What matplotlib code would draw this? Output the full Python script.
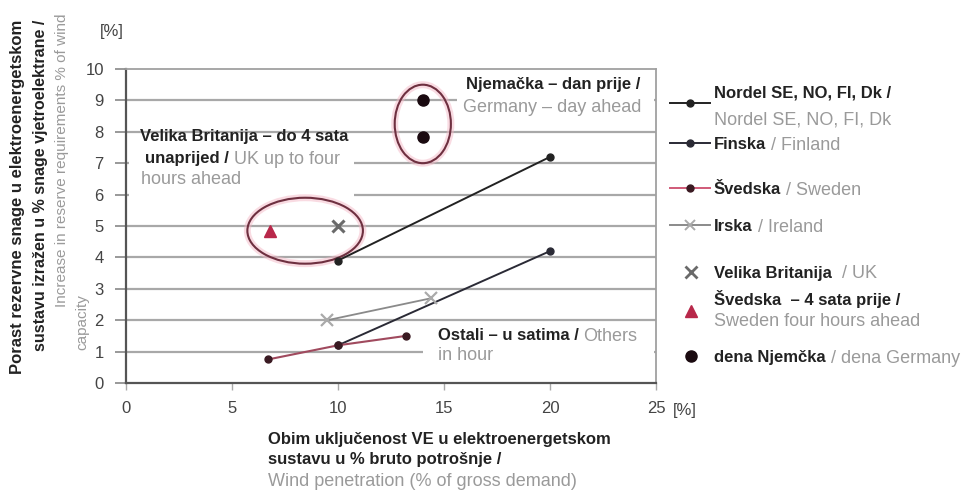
import matplotlib
matplotlib.use("Agg")
import matplotlib.pyplot as plt
from matplotlib.patches import Ellipse, Rectangle
from matplotlib.lines import Line2D

plt.rcParams['font.family'] = ['Liberation Sans', 'DejaVu Sans']

# ---------------- data ----------------
nordel_x = [10, 20]
nordel_y = [3.9, 7.2]
finland_x = [10, 20]
finland_y = [1.2, 4.2]
sweden_x = [6.7, 10, 13.2]
sweden_y = [0.75, 1.2, 1.5]
ireland_x = [9.5, 14.4]
ireland_y = [2.0, 2.7]
uk_x = [10]
uk_y = [5.0]
sweden4h_x = [6.8]
sweden4h_y = [4.85]
dena_x = [14, 14]
dena_y = [9.0, 7.85]

x_ticks = [0, 5, 10, 15, 20, 25]
y_ticks = list(range(0, 11))
y_ticklabels = [str(v) for v in y_ticks]

BLACK = '#222222'
GREY = '#9a9a9a'
W, H = 972, 494
BS = 12     # black text size (bold)
GS = 13     # grey text size

fig = plt.figure(figsize=(W / 100, H / 100), dpi=100)
ax = fig.add_axes([126 / W, 1 - 383 / H, (656 - 126) / W, (383 - 69) / H])
ax.set_xlim(0, 25)
ax.set_ylim(0, 10)

# grid
for v in y_ticks[1:10]:
    ax.axhline(v, color='#a8a8a8', lw=1.6, zorder=1)

for s in ['top', 'right']:
    ax.spines[s].set_color('#a0a0a0')
    ax.spines[s].set_linewidth(1.3)
for s in ['left', 'bottom']:
    ax.spines[s].set_color('#555555')
    ax.spines[s].set_linewidth(1.6)

ax.set_xticks(x_ticks)
ax.set_xticklabels([str(v) for v in x_ticks])
ax.set_yticks(y_ticks)
ax.set_yticklabels(y_ticklabels)
ax.tick_params(axis='y', direction='out', length=8, width=1.2, color='#888888',
               pad=8, labelsize=12, labelcolor='#444444')
ax.tick_params(axis='x', direction='out', length=5, width=1.0, color='#aaaaaa',
               pad=8, labelsize=12, labelcolor='#444444')

# white boxes behind annotations (hide gridlines)
ax.add_patch(Rectangle((0.15, 5.5), 10.6, 2.05, facecolor='white', edgecolor='none', zorder=2))
ax.add_patch(Rectangle((15.6, 8.4), 9.3, 1.3, facecolor='white', edgecolor='none', zorder=2))
ax.add_patch(Rectangle((14.0, 0.3), 10.9, 1.4, facecolor='white', edgecolor='none', zorder=2))

# series
ax.plot(nordel_x, nordel_y, color=BLACK, lw=1.4, marker='o', ms=5, zorder=4)
ax.plot(finland_x, finland_y, color='#2a2a35', lw=1.4, marker='o', ms=5, zorder=4)
ax.plot(sweden_x, sweden_y, color='#a04a5e', lw=1.5, marker='o', ms=5,
        mfc='#3a1a22', mec='#3a1a22', zorder=4)
ax.plot(ireland_x, ireland_y, color='#8a8a8a', lw=1.3, marker='x', ms=8, mew=1.6,
        mec='#aaaaaa', zorder=4)
ax.plot(uk_x, uk_y, ls='none', marker='x', ms=9, mew=2.2, color='#6a6a6a', zorder=5)
ax.plot(sweden4h_x, sweden4h_y, ls='none', marker='^', ms=8, color='#b8284a', zorder=5)
ax.plot(dena_x, dena_y, ls='none', marker='o', ms=8, color='#1a0a10', zorder=5)

# ellipses
for (cx, cy, ew, eh) in [(8.45, 4.85, 5.45, 2.1), (14.0, 8.25, 2.65, 2.5)]:
    ax.add_patch(Ellipse((cx, cy), ew, eh, facecolor='none', edgecolor='#f4b8c6',
                         lw=5, alpha=0.5, zorder=3))
    ax.add_patch(Ellipse((cx, cy), ew, eh, facecolor='none', edgecolor='#6e3040',
                         lw=1.5, zorder=3))

fig.canvas.draw()
renderer = fig.canvas.get_renderer()


def seg_text(x_px, y_px, parts):
    """Place coloured text segments one after another; (x_px, y_px) in pixels from top-left."""
    x = x_px / W
    y = 1 - y_px / H
    for txt, col in parts:
        if col == BLACK:
            kw = dict(fontsize=BS, fontweight='bold')
        elif col == GREY:
            kw = dict(fontsize=GS)
        else:
            kw = dict(fontsize=12)
        t = fig.text(x, y, txt, color=col, va='center_baseline', ha='left', zorder=10, **kw)
        bb = t.get_window_extent(renderer)
        x += bb.width / W


# axis unit labels
seg_text(100, 30, [('[%]', '#444444')])
seg_text(673, 409, [('[%]', '#444444')])

# annotations in plot
seg_text(140, 135, [('Velika Britanija \u2013 do 4 sata', BLACK)])
seg_text(145, 157, [('unaprijed / ', BLACK), ('UK up to four', GREY)])
seg_text(141, 178, [('hours ahead', GREY)])
seg_text(466, 83, [('Njema\u010dka \u2013 dan prije /', BLACK)])
seg_text(463, 105, [('Germany \u2013 day ahead', GREY)])
seg_text(438, 334, [('Ostali \u2013 u satima / ', BLACK), ('Others', GREY)])
seg_text(438, 354, [('in hour', GREY)])

# x label
seg_text(268, 438, [('Obim uklju\u010denost VE u elektroenergetskom', BLACK)])
seg_text(268, 458, [('sustavu u % bruto potro\u0161nje /', BLACK)])
seg_text(268, 479, [('Wind penetration (% of gross demand)', GREY)])

# y label (rotated columns)
fig.text(18 / W, 1 - 197 / H, 'Porast rezervne snage u elektroenergetskom', rotation=90,
         fontsize=BS, fontweight='bold', color=BLACK, ha='center', va='center')
fig.text(40 / W, 1 - 185 / H, 'sustavu izra\u017een u % snage vjetroelektrane /', rotation=90,
         fontsize=11.5, fontweight='bold', color=BLACK, ha='center', va='center')
fig.text(62 / W, 1 - 160 / H, 'Increase in reserve requirements % of wind', rotation=90,
         fontsize=11, color=GREY, ha='center', va='center')
fig.text(82 / W, 1 - 350 / H, 'capacity', rotation=90,
         fontsize=11, color=GREY, ha='center', va='bottom')

# legend (manual)
def leg_line(y_px, color, marker, mfc, mec, ms=5, mew=1.0):
    yf = 1 - y_px / H
    fig.add_artist(Line2D([670 / W, 710 / W], [yf, yf], color=color, lw=1.4,
                          transform=fig.transFigure))
    fig.add_artist(Line2D([690 / W], [yf], marker=marker, ms=ms, mfc=mfc, mec=mec, mew=mew,
                          ls='none', transform=fig.transFigure))


def leg_marker(y_px, marker, color, ms, mew=1.0):
    yf = 1 - y_px / H
    fig.add_artist(Line2D([691 / W], [yf], marker=marker, ms=ms, color=color, mew=mew,
                          ls='none', transform=fig.transFigure))


leg_line(103, BLACK, 'o', BLACK, BLACK)
seg_text(714, 92, [('Nordel SE, NO, FI, Dk /', BLACK)])
seg_text(714, 118, [('Nordel SE, NO, FI, Dk', GREY)])
leg_line(143, '#2a2a35', 'o', '#2a2a35', '#2a2a35')
seg_text(714, 143, [('Finska', BLACK), (' / Finland', GREY)])
leg_line(188, '#d05a78', 'o', '#3a1a22', '#3a1a22')
seg_text(714, 188, [('\u0160vedska', BLACK), (' / Sweden', GREY)])
leg_line(225, '#8a8a8a', 'x', '#aaaaaa', '#aaaaaa', ms=7, mew=1.4)
seg_text(714, 225, [('Irska', BLACK), (' / Ireland', GREY)])
leg_marker(272, 'x', '#6a6a6a', 8, mew=2.0)
seg_text(714, 272, [('Velika Britanija ', BLACK), (' / UK', GREY)])
leg_marker(311, '^', '#b8284a', 8)
seg_text(714, 297, [('\u0160vedska  \u2013 4 sata prije /', BLACK)])
seg_text(714, 319, [('Sweden four hours ahead', GREY)])
leg_marker(356, 'o', '#1a0a10', 8)
seg_text(714, 356, [('dena Njem\u010dka', BLACK), (' / dena Germany', GREY)])

fig.savefig('out.png', dpi=100)
